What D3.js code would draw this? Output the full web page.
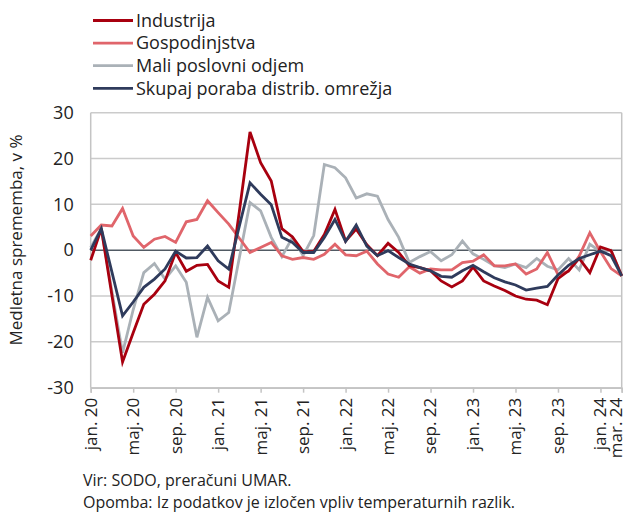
<!DOCTYPE html>
<html>
<head>
<meta charset="utf-8">
<script src="https://cdn.jsdelivr.net/npm/d3@7"></script>
<style>
  body { margin: 0; background: #fff; }
  svg { display: block; font-family: "Open Sans", "Noto Sans", sans-serif; }
</style>
</head>
<body>
<svg id="chart" width="627" height="513"></svg>
<script>
// months jan.20 .. mar.24
var months = d3.range(51);
var tickMonths = [0, 4, 8, 12, 16, 20, 24, 28, 32, 36, 40, 44, 48, 50];
var tickLabels = ["jan. 20", "maj. 20", "sep. 20", "jan. 21", "maj. 21", "sep. 21", "jan. 22",
                  "maj. 22", "sep. 22", "jan. 23", "maj. 23", "sep. 23", "jan. 24", "mar. 24"];
var yTicks = [30, 20, 10, 0, -10, -20, -30];

var industrija = [-2.2, 4.7, -9.9, -24.4, -18, -11.8, -9.6, -6.7, -0.5, -4.6, -3.3, -3.1, -6.7, -8.1, 8.5,
  25.8, 19.1, 15.1, 4.7, 2.9, -0.3, -0.3, 3.4, 8.9, 2, 4.6, 1.2, -1.2, 1.5, -0.5, -3.4, -3.8, -4.5, -6.7,
  -8, -6.7, -3.7, -6.7, -7.8, -8.8, -10, -10.7, -10.9, -11.9, -6.2, -4.5, -1.8, -4.9, 0.7, -0.1, -5.6];
var gospodinjstva = [3.1, 5.5, 5.3, 9.1, 3.1, 0.6, 2.4, 3.0, 1.7, 6.2, 6.7, 10.8, 8.2, 5.7, 2.6, -0.5, 0.6,
  1.7, -1.2, -2, -1.6, -2, -0.9, 1.3, -1, -1.2, -0.2, -3, -5.2, -5.9, -3.6, -5, -4.1, -4.3, -4.3, -2.7,
  -2.4, -1, -3.4, -3.4, -3, -5.2, -4.1, -0.5, -5.3, -4.6, -1.3, 3.8, -0.3, -4, -5.6];
var maliOdjem = [0.6, 4.7, -9, -22.4, -13, -4.9, -2.9, -6.3, -3.4, -7, -19, -10.3, -15.4, -13.6, -1.6, 10.4,
  8.6, 2.8, -1.4, 2.8, -1.2, 3.2, 18.7, 18, 15.8, 11.4, 12.3, 11.8, 6.7, 2.8, -2.7, -1.4, -0.3, -2.3, -1,
  2, -0.8, -2, -3.4, -3.8, -3, -3.8, -1.8, -3.5, -4.3, -1.8, -4.3, 1.3, -0.3, 0, -5.7];
var skupaj = [0, 4.7, -4.8, -14.3, -11.3, -8.1, -6.3, -4.1, -0.2, -1.7, -1.6, 0.9, -2.3, -4.1, 5.3, 14.7,
  12.2, 9.9, 2.8, 1.7, -0.5, -0.5, 2.8, 6.7, 1.9, 5.5, 0.9, -1.2, -0.1, -1.6, -3, -3.8, -4.5, -5.7, -5.9,
  -4.5, -3.3, -4.7, -6, -6.9, -7.6, -8.7, -8.3, -7.9, -5.4, -3.3, -1.8, -1, -0.2, -1.2, -5.6];

var seriesNames = ["Industrija", "Gospodinjstva", "Mali poslovni odjem", "Skupaj poraba distrib. omrežja"];
var seriesColors = ["#a8000f", "#e0656b", "#aab1b7", "#2f3b5c"];
var seriesData = [industrija, gospodinjstva, maliOdjem, skupaj];

var plotLeft = 90.7, plotRight = 621.7, plotTop = 112.7, plotBottom = 387.7;
var svg = d3.select("#chart");

var x = d3.scaleLinear().domain([0, 50]).range([plotLeft, plotRight]);
var y = d3.scaleLinear().domain([-30, 30]).range([plotBottom, plotTop]);

//Gridlines
svg.append("g")
    .selectAll("line")
    .data(yTicks.filter(function(d){ return d !== 0; }))
    .join("line")
    .attr("x1", plotLeft).attr("x2", plotRight)
    .attr("y1", function(d){ return y(d); })
    .attr("y2", function(d){ return y(d); })
    .attr("stroke", "#cbcbcb")
    .attr("stroke-width", 1.5);

//Left and right border
svg.append("line")
    .attr("x1", plotLeft).attr("x2", plotLeft).attr("y1", plotTop).attr("y2", plotBottom)
    .attr("stroke", "#c4c4c4").attr("stroke-width", 1.5);
svg.append("line")
    .attr("x1", plotRight).attr("x2", plotRight).attr("y1", plotTop).attr("y2", plotBottom)
    .attr("stroke", "#c4c4c4").attr("stroke-width", 1.5);

//Y axis labels
var yAxis = d3.axisLeft(y).tickValues(yTicks).tickSize(0).tickPadding(17)
    .tickFormat(function(d){ return String(d); });
var gy = svg.append("g").attr("transform", "translate(" + plotLeft + ",0)").call(yAxis);
gy.select(".domain").remove();
gy.selectAll("text").attr("font-size", 18).attr("fill", "#222")
    .attr("font-family", "'Open Sans', sans-serif");

//X axis
var xAxis = d3.axisBottom(x).tickValues(tickMonths).tickSize(5)
    .tickFormat(function(d, i){ return tickLabels[i]; });
var gx = svg.append("g").attr("transform", "translate(0," + plotBottom + ")").call(xAxis);
gx.select(".domain").attr("stroke", "#c4c4c4").attr("stroke-width", 1.5);
gx.selectAll(".tick line").attr("stroke", "#c4c4c4").attr("stroke-width", 1.5);
gx.selectAll("text")
    .attr("font-size", 17).attr("fill", "#222")
    .attr("font-family", "'Open Sans', sans-serif")
    .attr("transform", "rotate(-90)")
    .attr("text-anchor", "end")
    .attr("dy", "0.32em")
    .attr("x", -10)
    .attr("y", function(d){ return d === 50 ? -6 : 0; });

//Zero line
svg.append("line")
    .attr("x1", plotLeft).attr("x2", plotRight).attr("y1", y(0)).attr("y2", y(0))
    .attr("stroke", "#515a63").attr("stroke-width", 1.5);

//Series lines
var line = d3.line()
    .x(function(d, i){ return x(months[i]); })
    .y(function(d){ return y(d); });

svg.append("g")
    .selectAll("path")
    .data([2, 1, 0, 3])
    .join("path")
    .attr("d", function(k){ return line(seriesData[k]); })
    .attr("fill", "none")
    .attr("stroke", function(k){ return seriesColors[k]; })
    .attr("stroke-width", 2.8)
    .attr("stroke-linejoin", "miter");

//Legend
var legend = svg.append("g");
seriesNames.forEach(function(name, i){
    var ly = 20.5 + i * 22.6;
    legend.append("line")
        .attr("x1", 93).attr("x2", 133).attr("y1", ly).attr("y2", ly)
        .attr("stroke", seriesColors[i]).attr("stroke-width", 2.8);
    legend.append("text")
        .attr("x", 136).attr("y", ly).attr("dy", "0.35em")
        .attr("font-size", 18).attr("fill", "#222")
        .text(name);
});

//Y axis title
svg.append("text")
    .attr("transform", "translate(16,240) rotate(-90)")
    .attr("text-anchor", "middle").attr("dy", "0.35em")
    .attr("font-size", 17).attr("fill", "#222")
    .text("Medletna sprememba, v %");

//Notes
svg.append("text").attr("x", 83).attr("y", 486)
    .attr("font-size", 16).attr("fill", "#222")
    .text("Vir: SODO, preračuni UMAR.");
svg.append("text").attr("x", 83).attr("y", 508)
    .attr("font-size", 16).attr("fill", "#222")
    .text("Opomba: Iz podatkov je izločen vpliv temperaturnih razlik.");
</script>
</body>
</html>
